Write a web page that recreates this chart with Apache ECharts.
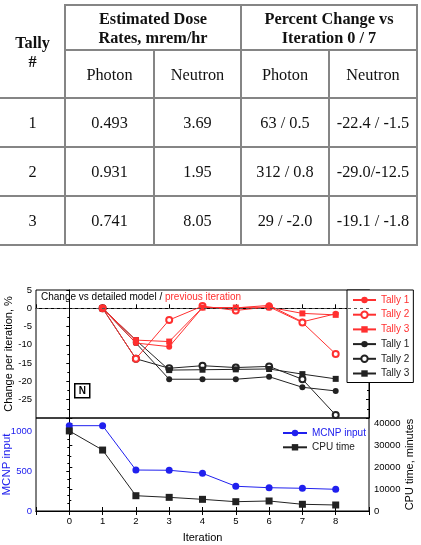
<!DOCTYPE html>
<html>
<head>
<meta charset="utf-8">
<script src="https://cdn.jsdelivr.net/npm/echarts@6/dist/echarts.min.js"></script>
<style>
  html, body { margin:0; padding:0; background:#fff; }
  #wrap { position:relative; width:421px; height:545px; overflow:hidden; }
  #chart { position:absolute; left:0; top:0; width:421px; height:545px; }
  #tbl { position:absolute; left:0; top:0; width:421px; height:260px; font-family:"Liberation Serif", "DejaVu Serif", serif; color:#111; }
  .ln { position:absolute; background:#858585; }
  .cell { position:absolute; display:flex; align-items:center; justify-content:center; text-align:center; font-size:16.3px; line-height:19px; }
  .hd { font-weight:bold; }
</style>
</head>
<body>
<div id="wrap">
  <div id="chart"></div>
  <div id="tbl"></div>
</div>
<script>
// ---------- table data ----------
const tableTallies = ['1', '2', '3'];
const dosePhoton = ['0.493', '0.931', '0.741'];
const doseNeutron = ['3.69', '1.95', '8.05'];
const pctPhoton = ['63 / 0.5', '312 / 0.8', '29 / -2.0'];
const pctNeutron = ['-22.4 / -1.5', '-29.0/-12.5', '-19.1 / -1.8'];
const headTally = 'Tally<br>#';
const headDose = 'Estimated Dose<br>Rates, mrem/hr';
const headPct = 'Percent Change vs<br>Iteration 0 / 7';
const subHeads = ['Photon', 'Neutron', 'Photon', 'Neutron'];

// ---------- chart data ----------
const iterations = [0, 1, 2, 3, 4, 5, 6, 7, 8];
// change vs previous iteration (red), %
const prevT1 = [null, 0, -9.5, -10.5, 0.2, 0.1, 0.8, -3.7, -1.5];
const prevT2 = [null, 0, -13.8, -3.2, 0.6, -0.6, 0.4, -3.9, -12.5];
const prevT3 = [null, 0, -8.7, -9.1, 0.2, 0.2, 0.3, -1.4, -1.8];
// change vs detailed model (black), %
const detT1 = [null, 0, -9.5, -19.4, -19.4, -19.4, -18.7, -21.6, -22.6];
const detT2 = [null, 0, -13.8, -16.4, -15.7, -16.2, -15.9, -19.4, -29.2];
const detT3 = [null, 0, -8.7, -16.9, -16.8, -16.7, -16.6, -18.0, -19.3];
// lower panel
const mcnpInput = [1066, 1066, 512, 509, 471, 309, 291, 284, 271];
const cpuTime = [36400, 27700, 6950, 6200, 5300, 4230, 4550, 3050, 2730];
const legendLabels = { r1: 'Tally 1', r2: 'Tally 2', r3: 'Tally 3', k1: 'Tally 1', k2: 'Tally 2', k3: 'Tally 3' };

// ---------- build table ----------
(function buildTable() {
  const colX = [0, 65, 154, 241, 329, 417];
  const rowY = [5, 50, 98, 147, 196, 245];
  const t = document.getElementById('tbl');
  const lw = 2;
  function line(x, y, w, h) {
    const d = document.createElement('div');
    d.className = 'ln';
    d.style.left = x + 'px'; d.style.top = y + 'px';
    d.style.width = w + 'px'; d.style.height = h + 'px';
    t.appendChild(d);
  }
  function cell(c0, c1, r0, r1, html, cls) {
    const d = document.createElement('div');
    d.className = 'cell' + (cls ? ' ' + cls : '');
    d.style.left = colX[c0] + 'px'; d.style.top = rowY[r0] + 'px';
    d.style.width = (colX[c1] - colX[c0]) + 'px'; d.style.height = (rowY[r1] - rowY[r0]) + 'px';
    d.innerHTML = html;
    t.appendChild(d);
  }
  // horizontal lines (no top border over the first column)
  rowY.forEach((y, i) => {
    const x0 = (i <= 1) ? colX[1] : colX[0];
    line(x0 - 1, y - 1, colX[5] - x0 + lw, lw);
  });
  // vertical lines (no outer left border)
  colX.forEach((x, i) => {
    if (i === 0) return;
    const y0 = (i === 2 || i === 4) ? rowY[1] : rowY[0];
    line(x - 1, y0 - 1, lw, rowY[5] - y0 + lw);
  });
  cell(0, 1, 0, 2, headTally, 'hd');
  cell(1, 3, 0, 1, headDose, 'hd');
  cell(3, 5, 0, 1, headPct, 'hd');
  subHeads.forEach((s, i) => cell(i + 1, i + 2, 1, 2, s));
  tableTallies.forEach((v, r) => {
    cell(0, 1, r + 2, r + 3, v);
    cell(1, 2, r + 2, r + 3, dosePhoton[r]);
    cell(2, 3, r + 2, r + 3, doseNeutron[r]);
    cell(3, 4, r + 2, r + 3, pctPhoton[r]);
    cell(4, 5, r + 2, r + 3, pctNeutron[r]);
  });
})();

// ---------- chart ----------
const FONT = 'Liberation Sans';
const RED = '#ff3030';
const BLK = '#222222';
const BLUE = '#2020ee';
function pairs(arr) {
  return iterations.map((x, i) => [x, arr[i]]).filter(p => p[1] !== null);
}
function upperSeries(name, arr, symbol, color) {
  return {
    name: name, type: 'line', xAxisIndex: 0, yAxisIndex: 0,
    data: pairs(arr), symbol: symbol, symbolSize: 6,
    itemStyle: { color: color }, lineStyle: { color: color, width: 1 },
    emphasis: { disabled: true }
  };
}
const series = [
  upperSeries('k1', detT1, 'circle', BLK),
  upperSeries('k2', detT2, 'emptyCircle', BLK),
  upperSeries('k3', detT3, 'rect', BLK),
  upperSeries('r1', prevT1, 'circle', RED),
  upperSeries('r2', prevT2, 'emptyCircle', RED),
  upperSeries('r3', prevT3, 'rect', RED),
  {
    name: 'MCNP input', type: 'line', xAxisIndex: 1, yAxisIndex: 2,
    data: pairs(mcnpInput), symbol: 'circle', symbolSize: 7,
    itemStyle: { color: BLUE }, lineStyle: { color: BLUE, width: 1 }
  },
  {
    name: 'CPU time', type: 'line', xAxisIndex: 1, yAxisIndex: 3,
    data: pairs(cpuTime), symbol: 'rect', symbolSize: 7,
    itemStyle: { color: BLK }, lineStyle: { color: BLK, width: 1 }
  }
];
series[0].markLine = {
  silent: true, symbol: ['none', 'none'], label: { show: false },
  lineStyle: { color: '#555', type: [3, 3], width: 1 },
  data: [{ yAxis: 0 }]
};

const axisCommon = {
  axisLine: { show: true, lineStyle: { color: '#000', width: 1 } },
  splitLine: { show: false },
  nameMoveOverlap: false
};
const plain = v => String(v);
function xAx(grid, pos, labels) {
  return Object.assign({}, axisCommon, {
    gridIndex: grid, type: 'value', min: -1, max: 9, interval: 1, position: pos,
    axisTick: { inside: true, length: 4, lineStyle: { color: '#000' } },
    axisLabel: labels ? { fontFamily: FONT, fontSize: 9.5, color: '#000', margin: 5,
      formatter: v => (v < 0 || v > 8) ? '' : String(v) } : { show: false }
  });
}

const option = {
  animation: false,
  backgroundColor: 'transparent',
  textStyle: { fontFamily: FONT },
  grid: [
    { left: 36, right: 52, top: 290, height: 128, show: true, borderColor: '#000', borderWidth: 1,
      containLabel: false, outerBoundsMode: 'none' },
    { left: 36, right: 52, top: 418, height: 93, show: true, borderColor: '#000', borderWidth: 1,
      containLabel: false, outerBoundsMode: 'none' }
  ],
  xAxis: [
    xAx(0, 'bottom', false),
    Object.assign(xAx(1, 'bottom', true), {
      name: 'Iteration', nameLocation: 'middle', nameGap: 21,
      nameTextStyle: { fontFamily: FONT, fontSize: 11, color: '#000' }
    }),
    xAx(1, 'top', false)
  ],
  yAxis: [
    Object.assign({}, axisCommon, {
      gridIndex: 0, type: 'value', min: -30, max: 5, interval: 5, position: 'left',
      axisTick: { inside: false, length: 3, lineStyle: { color: '#000' } },
      minorTick: { show: true, splitNumber: 2, length: 2, lineStyle: { color: '#000' } },
      axisLabel: { fontFamily: FONT, fontSize: 9.5, color: '#000', margin: 4,
        formatter: v => v === -30 ? '' : String(v) },
      name: 'Change per iteration, %', nameLocation: 'middle', nameGap: 22, nameRotate: 90,
      nameTextStyle: { fontFamily: FONT, fontSize: 11, color: '#000' }
    }),
    Object.assign({}, axisCommon, {
      gridIndex: 0, type: 'value', min: -30, max: 5, interval: 5, position: 'right',
      axisTick: { inside: true, length: 3, lineStyle: { color: '#000' } },
      minorTick: { show: true, splitNumber: 2, length: 2, lineStyle: { color: '#000' } },
      axisLabel: { show: false }
    }),
    Object.assign({}, axisCommon, {
      gridIndex: 1, type: 'value', min: 0, max: 1162, interval: 500, position: 'left',
      axisTick: { inside: false, length: 3, lineStyle: { color: '#000' } },
      minorTick: { show: true, splitNumber: 5, length: 2, lineStyle: { color: '#000' } },
      axisLabel: { fontFamily: FONT, fontSize: 9.5, color: BLUE, margin: 4, showMaxLabel: false, formatter: plain },
      name: 'MCNP input', nameLocation: 'middle', nameGap: 23, nameRotate: 90,
      nameTextStyle: { fontFamily: FONT, fontSize: 11.5, color: BLUE }
    }),
    Object.assign({}, axisCommon, {
      gridIndex: 1, type: 'value', min: 0, max: 42270, interval: 10000, position: 'right',
      axisTick: { inside: false, length: 3, lineStyle: { color: '#000' } },
      minorTick: { show: true, splitNumber: 2, length: 2, lineStyle: { color: '#000' } },
      axisLabel: { fontFamily: FONT, fontSize: 9.5, color: '#000', margin: 5, showMaxLabel: false, formatter: plain },
      name: 'CPU time, minutes', nameLocation: 'middle', nameGap: 35, nameRotate: 90,
      nameTextStyle: { fontFamily: FONT, fontSize: 11, color: '#000' }
    })
  ],
  legend: [
    {
      left: 347, top: 290, orient: 'vertical',
      data: [
        { name: 'r1', textStyle: { color: RED } },
        { name: 'r2', textStyle: { color: RED } },
        { name: 'r3', textStyle: { color: RED } },
        { name: 'k1', textStyle: { color: BLK } },
        { name: 'k2', textStyle: { color: BLK } },
        { name: 'k3', textStyle: { color: BLK } }
      ],
      formatter: n => legendLabels[n],
      itemWidth: 23, itemHeight: 8, itemGap: 4.7,
      padding: [5, 4, 4, 5],
      backgroundColor: '#fff', borderColor: '#000', borderWidth: 1, borderRadius: 0,
      textStyle: { fontFamily: FONT, fontSize: 10 },
      selectedMode: false
    },
    {
      left: 282, top: 428, orient: 'vertical',
      data: [
        { name: 'MCNP input', textStyle: { color: BLUE } },
        { name: 'CPU time', textStyle: { color: BLK } }
      ],
      itemWidth: 24, itemHeight: 8, itemGap: 4.3, padding: 0,
      textStyle: { fontFamily: FONT, fontSize: 10 },
      selectedMode: false
    }
  ],
  graphic: [
    {
      type: 'text', left: 41, top: 292, silent: true,
      style: {
        text: '{a|Change vs detailed model /} {b|previous iteration}',
        font: '10px Liberation Sans',
        rich: {
          a: { fill: '#000', fontSize: 10, fontFamily: FONT },
          b: { fill: RED, fontSize: 10, fontFamily: FONT }
        }
      }
    },
    {
      type: 'group', left: 74, top: 383, silent: true,
      children: [
        { type: 'rect', shape: { x: 0, y: 0, width: 15, height: 14 },
          style: { fill: '#fff', stroke: '#000', lineWidth: 1.5 } },
        { type: 'text', x: 7.5, y: 7,
          style: { text: 'N', font: 'bold 10px Liberation Sans', fill: '#000', align: 'center', verticalAlign: 'middle' } }
      ]
    }
  ],
  series: series
};

const chart = echarts.init(document.getElementById('chart'), null, { renderer: 'canvas' });
chart.setOption(option);
</script>
</body>
</html>
